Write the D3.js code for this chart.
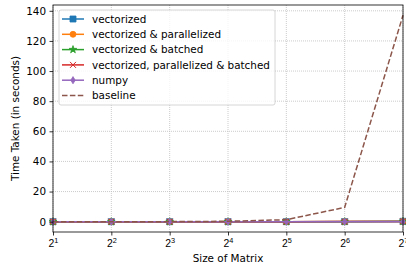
<!DOCTYPE html>
<html>
<head>
<meta charset="utf-8">
<script src="https://cdn.jsdelivr.net/npm/d3@7"></script>
<style>
  body { margin: 0; background: #fff; }
  svg { font-family: "DejaVu Sans", sans-serif; }
</style>
</head>
<body>
<div id="chart"></div>
<script>
// exponents of the matrix size (2^n)
var sizes = [1, 2, 3, 4, 5, 6, 7];
var yTicks = [0, 20, 40, 60, 80, 100, 120, 140];

var vectorized = [0.0002, 0.0003, 0.0006, 0.002, 0.008, 0.04, 0.25];
var vectorizedParallel = [0.002, 0.002, 0.003, 0.005, 0.01, 0.04, 0.2];
var vectorizedBatched = [0.0003, 0.0004, 0.0008, 0.002, 0.008, 0.035, 0.2];
var vectorizedParallelBatched = [0.003, 0.003, 0.004, 0.006, 0.012, 0.04, 0.18];
var numpy = [0.00001, 0.00002, 0.00005, 0.0002, 0.001, 0.005, 0.03];
var baseline = [0.001, 0.006, 0.04, 0.25, 1.3, 9.5, 137];

var series = [
  {name: "vectorized", values: vectorized, color: "#1f77b4", marker: "square"},
  {name: "vectorized & parallelized", values: vectorizedParallel, color: "#ff7f0e", marker: "circle"},
  {name: "vectorized & batched", values: vectorizedBatched, color: "#2ca02c", marker: "star"},
  {name: "vectorized, parallelized & batched", values: vectorizedParallelBatched, color: "#d62728", marker: "x"},
  {name: "numpy", values: numpy, color: "#9467bd", marker: "diamond"},
  {name: "baseline", values: baseline, color: "#8c564b", marker: null, dash: "5.5,2.4"}
];

var width = 406, height = 267;
var margin = {left: 53, right: 3, top: 5, bottom: 35};
var fs = 10.4;

var svg = d3.select("#chart").append("svg")
  .attr("width", width)
  .attr("height", height);

var x = d3.scaleLinear()
  .domain([1, 7])
  .range([margin.left, width - margin.right]);

var ymax = d3.max(baseline), ymin = 0;
var pad = (ymax - ymin) * 0.05;
var y = d3.scaleLinear()
  .domain([ymin - pad, ymax + pad])
  .range([height - margin.bottom, margin.top]);

// grid
var grid = svg.append("g")
  .attr("stroke", "#b0b0b0")
  .attr("stroke-width", 0.8)
  .attr("stroke-dasharray", "1,1")
  .attr("opacity", 0.8);
sizes.forEach(function(s){
  grid.append("line")
    .attr("x1", x(s)).attr("x2", x(s))
    .attr("y1", margin.top).attr("y2", height - margin.bottom);
});
yTicks.forEach(function(t){
  grid.append("line")
    .attr("x1", margin.left).attr("x2", width - margin.right)
    .attr("y1", y(t)).attr("y2", y(t));
});

// markers
function markerPath(type){
  if(type === "square") return d3.symbol(d3.symbolSquare, 36)();
  if(type === "circle") return d3.symbol(d3.symbolCircle, 28)();
  if(type === "star") return d3.symbol(d3.symbolStar, 18)();
  if(type === "x") return "M-3,-3L3,3M-3,3L3,-3";
  if(type === "diamond") return "M0,-3.6L2.2,0L0,3.6L-2.2,0Z";
  return null;
}

var line = d3.line()
  .x(function(d, i){ return x(sizes[i]); })
  .y(function(d){ return y(d); });

var plot = svg.append("g");
series.forEach(function(s){
  plot.append("path")
    .attr("d", line(s.values))
    .attr("fill", "none")
    .attr("stroke", s.color)
    .attr("stroke-width", 1.5)
    .attr("stroke-dasharray", s.dash || null);
  if(s.marker){
    s.values.forEach(function(v, i){
      var m = plot.append("path")
        .attr("d", markerPath(s.marker))
        .attr("transform", "translate(" + x(sizes[i]) + "," + y(v) + ")");
      if(s.marker === "x"){
        m.attr("fill", "none").attr("stroke", s.color).attr("stroke-width", 1);
      } else {
        m.attr("fill", s.color).attr("stroke", s.color).attr("stroke-width", 0.8);
      }
    });
  }
});

// axes
var yAxis = svg.append("g")
  .attr("transform", "translate(" + margin.left + ",0)")
  .call(d3.axisLeft(y).tickValues(yTicks).tickSize(3.5).tickPadding(3.5));
yAxis.selectAll("text").attr("font-size", fs).attr("fill", "#000")
  .attr("font-family", "DejaVu Sans");
yAxis.select(".domain").remove();
yAxis.selectAll("line").attr("stroke", "#000").attr("stroke-width", 0.8);

var xAxis = svg.append("g")
  .attr("transform", "translate(0," + (height - margin.bottom) + ")")
  .call(d3.axisBottom(x).tickValues(sizes).tickSize(3.5).tickPadding(3.5).tickFormat(""));
xAxis.select(".domain").remove();
xAxis.selectAll("line").attr("stroke", "#000").attr("stroke-width", 0.8);
xAxis.selectAll(".tick").each(function(d){
  var t = d3.select(this).append("text")
    .attr("y", 14.5)
    .attr("text-anchor", "middle")
    .attr("font-size", fs)
    .attr("fill", "#000");
  t.append("tspan").text("2");
  t.append("tspan").attr("dy", -4).attr("font-size", 7.3).text(d);
});

// spines
svg.append("rect")
  .attr("x", margin.left).attr("y", margin.top)
  .attr("width", width - margin.left - margin.right)
  .attr("height", height - margin.top - margin.bottom)
  .attr("fill", "none")
  .attr("stroke", "#000")
  .attr("stroke-width", 0.8);

// axis labels
svg.append("text")
  .attr("x", (margin.left + width - margin.right) / 2)
  .attr("y", 262)
  .attr("text-anchor", "middle")
  .attr("font-size", fs)
  .text("Size of Matrix");

svg.append("text")
  .attr("transform", "translate(19," + ((margin.top + height - margin.bottom) / 2) + ") rotate(-90)")
  .attr("text-anchor", "middle")
  .attr("font-size", fs)
  .text("Time Taken (in seconds)");

// legend
var legend = svg.append("g").attr("transform", "translate(59,10)");
legend.append("rect")
  .attr("width", 216).attr("height", 95)
  .attr("rx", 2)
  .attr("fill", "#fff").attr("fill-opacity", 0.8)
  .attr("stroke", "#cccccc").attr("stroke-width", 0.8);
series.forEach(function(s, i){
  var row = legend.append("g").attr("transform", "translate(0," + (9 + i * 15.3) + ")");
  row.append("line")
    .attr("x1", 3).attr("x2", 25)
    .attr("stroke", s.color).attr("stroke-width", 1.5)
    .attr("stroke-dasharray", s.dash || null);
  if(s.marker){
    var m = row.append("path")
      .attr("d", markerPath(s.marker))
      .attr("transform", "translate(14,0)");
    if(s.marker === "x"){
      m.attr("fill", "none").attr("stroke", s.color).attr("stroke-width", 1);
    } else {
      m.attr("fill", s.color).attr("stroke", s.color).attr("stroke-width", 0.8);
    }
  }
  row.append("text")
    .attr("x", 33).attr("y", 3.7)
    .attr("font-size", fs)
    .attr("fill", "#000")
    .text(s.name);
});
</script>
</body>
</html>
